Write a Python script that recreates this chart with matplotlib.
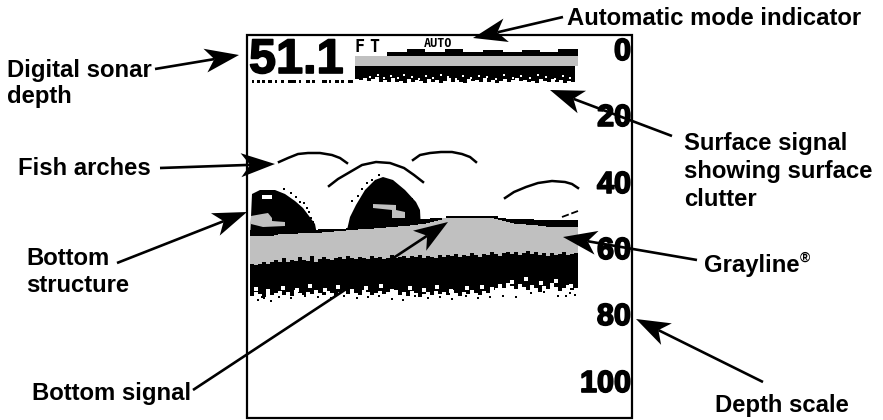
import matplotlib
matplotlib.use('Agg')
import matplotlib.pyplot as plt
import matplotlib.patheffects as pe
from matplotlib.patches import Polygon, Rectangle
import numpy as np

# everything in pixels, y grows downwards
frame = (247, 35, 632, 418)
black = '#000000'
gray = '#c0c0c0'

depth_labels = ['0', '20', '40', '60', '80', '100']
depth_base = [60, 126, 193, 259, 325, 392]
sonar_depth = '51.1'

# notes: text, x, baseline
notes = [
    ('Digital sonar', 7, 77), ('depth', 7, 103), ('Fish arches', 18, 175),
    ('Bottom', 26, 265), ('structure', 26, 292), ('Bottom signal', 32, 400),
    ('Automatic mode indicator', 567, 25), ('Surface signal', 684, 150),
    ('showing surface', 684, 178), ('clutter', 684, 206),
    ('Grayline', 704, 272), ('Depth scale', 715, 412),
]
# arrows: tail x, tail y, tip x, tip y
arrows = [
    (155, 69, 239, 55), (160, 168, 275, 164), (117, 263, 247, 212),
    (193, 390, 448, 222), (563, 17, 473, 38), (672, 136, 550, 90),
    (697, 260, 563, 237), (763, 382, 636, 319),
]

# surface band
band_steps_x = [387, 407, 425, 445, 463, 483, 503, 522, 540, 558, 578]
band_steps_y = [52, 49, 52, 49, 52, 50, 52, 50, 52, 49, 49]
clutter_x = np.arange(355, 579, 4)
clutter_y = [79, 80, 78, 81, 79, 77, 82, 80, 82, 78, 82, 81, 83, 79, 82, 80, 81, 83, 79, 82, 80, 83, 81, 78, 82, 80,
             82, 83, 79, 81, 80, 82, 78, 82, 80, 83, 81, 79, 82, 80, 78, 81, 80, 82, 81, 83, 79, 81, 82, 79, 82, 80,
             83, 81, 82, 82]
clutter_left_x = [252, 257, 262, 268, 275, 281, 288, 293, 299, 306, 312, 322, 329, 335, 341, 348]
clutter_left_w = [2, 3, 3, 4, 2, 3, 5, 3, 2, 4, 3, 5, 2, 4, 3, 5]
white_x = [370, 378, 384, 391, 398, 404, 412, 419, 426, 433, 441, 448, 456, 463, 471, 479, 487, 496, 504, 513, 521,
           530, 538, 546, 555, 563, 570]
white_y = [77, 75, 78, 76, 78, 75, 77, 79, 76, 78, 75, 77, 79, 76, 78, 76, 77, 79, 75, 78, 76, 78, 75, 77, 79, 76, 78]

# fish arches, x and y along each one
arch_x = [
    [279, 288, 298, 308, 320, 332, 340, 347],
    [329, 338, 350, 362, 376, 390, 404, 414, 423],
    [413, 420, 430, 441, 452, 462, 470, 476],
    [505, 514, 526, 538, 552, 565, 572, 578],
]
arch_y = [
    [162, 158, 154, 153, 153, 155, 158, 163],
    [186, 179, 172, 165, 162, 163, 168, 175, 182],
    [160, 155, 153, 152, 152, 154, 157, 162],
    [198, 192, 187, 183, 181, 182, 184, 188],
]
dash_x = [562, 570, 578]
dash_y = [217, 214, 211]

# bottom structure outlines
blob1_x = [250, 252, 260, 275, 285, 295, 303, 309, 315, 318]
blob1_y = [240, 194, 190, 190, 194, 201, 208, 216, 224, 240]
blob2_x = [347, 350, 356, 365, 375, 383, 393, 405, 416, 420, 421]
blob2_y = [230, 217, 205, 190, 180, 177, 180, 190, 202, 210, 230]
blob1_patch_x = [251, 262, 268, 272, 272, 285, 285, 263, 251]
blob1_patch_y = [216, 214, 213, 218, 221, 222, 226, 227, 224]
blob2_patch_x = [373, 396, 396, 405, 405, 392, 392, 373]
blob2_patch_y = [204, 205, 210, 212, 218, 218, 210, 208]
blob1_hole_x = [262, 272, 272, 262]
blob1_hole_y = [195, 195, 199, 199]
blob_edge_x = [296, 300, 304, 307, 309, 311, 313, 352, 358, 362, 367, 372, 379, 394, 398, 402, 408, 412, 284, 291]
blob_edge_y = [197, 202, 203, 208, 212, 218, 222, 201, 196, 189, 183, 180, 175, 187, 190, 193, 196, 199, 189, 193]

# bottom signal columns
bottom_x = np.arange(250, 582, 4)
black_top = [230, 230, 230, 230, 230, 230, 230, 230, 230, 230, 230, 230, 230, 230, 230, 230, 230, 229, 229, 229,
             229, 229, 229, 229, 228, 228, 227, 226, 225, 224, 223, 222, 221, 220, 220, 220, 220, 219, 219, 219,
             219, 219, 219, 219, 219, 218, 218, 218, 218, 216, 216, 216, 216, 216, 216, 216, 216, 216, 216, 216,
             216, 216, 218, 218, 219, 219, 219, 219, 219, 219, 219, 220, 220, 220, 220, 220, 220, 220, 220, 220,
             220, 220, 220]
gray_top = [236, 236, 236, 236, 236, 236, 235, 234, 234, 234, 234, 234, 233, 233, 233, 233, 233, 233, 232, 232,
            232, 231, 231, 231, 230, 230, 230, 229, 229, 229, 229, 228, 228, 228, 227, 227, 227, 226, 226, 226,
            225, 225, 224, 224, 223, 222, 221, 220, 218, 218, 218, 218, 218, 218, 218, 218, 218, 218, 218, 218,
            218, 219, 220, 221, 222, 223, 224, 224, 224, 225, 225, 225, 226, 226, 227, 227, 227, 227, 227, 227,
            227, 227, 227]
gray_bottom = [264, 265, 264, 262, 264, 262, 260, 262, 258, 262, 260, 261, 257, 260, 261, 256, 262, 259, 257, 259,
               260, 258, 257, 259, 256, 258, 259, 257, 258, 259, 256, 258, 257, 259, 258, 255, 258, 257, 256, 258,
               256, 257, 255, 258, 256, 257, 258, 255, 257, 255, 256, 254, 257, 255, 256, 253, 255, 257, 254, 255,
               252, 254, 256, 253, 252, 254, 252, 255, 253, 251, 254, 252, 255, 253, 256, 253, 255, 254, 252, 255,
               254, 253, 253]
black_bottom = [296, 292, 294, 297, 292, 295, 293, 291, 295, 292, 296, 290, 293, 295, 292, 294, 290, 293, 295, 291,
                293, 296, 292, 290, 294, 291, 293, 295, 290, 292, 295, 293, 291, 294, 292, 289, 293, 295, 292, 296,
                291, 293, 297, 294, 292, 295, 291, 294, 292, 295, 290, 293, 296, 292, 294, 290, 293, 295, 291, 293,
                287, 290, 284, 288, 283, 286, 289, 284, 287, 290, 285, 288, 292, 286, 289, 283, 287, 291, 288, 285,
                290, 288, 288]
speck_x = [258, 264, 271, 262, 279, 291, 305, 318, 331, 344, 357, 368, 379, 392, 403, 415, 428, 440, 452, 466, 478,
           490, 503, 516, 531, 544, 558, 570, 575, 566]
speck_y = [300, 298, 301, 297, 297, 298, 296, 297, 298, 296, 298, 297, 296, 299, 300, 296, 298, 297, 299, 296, 298,
           297, 296, 297, 293, 292, 296, 293, 295, 296]
hole_x = [256, 268, 283, 297, 310, 325, 338, 352, 366, 381, 396, 410, 424, 437, 451, 467, 482, 497, 512, 526, 541,
          556, 571]
hole_y = [289, 291, 288, 290, 286, 290, 287, 291, 288, 286, 292, 288, 290, 287, 291, 288, 287, 290, 282, 279, 283,
          281, 286]


def draw_arrow(ax, x0, y0, x1, y1):
    # notched arrow head, same proportions on every arrow
    d = np.array([x1 - x0, y1 - y0], dtype=float)
    d = d / np.hypot(d[0], d[1])
    n = np.array([-d[1], d[0]])
    tip = np.array([x1, y1], dtype=float)
    back = tip - d * 34
    notch = tip - d * 25
    ax.plot([x0, notch[0]], [y0, notch[1]], color=black, lw=1.9, solid_capstyle='butt', zorder=6)
    ax.add_patch(Polygon([tip, back + n * 12, notch, back - n * 12], closed=True, color=black, lw=0, zorder=6))


fig = plt.figure(figsize=(8.83, 4.2), dpi=100)
ax = fig.add_axes([0, 0, 1, 1])
ax.set_xlim(0, 883)
ax.set_ylim(420, 0)
ax.axis('off')

ax.add_patch(Rectangle((frame[0], frame[1]), frame[2] - frame[0], frame[3] - frame[1],
                       fill=False, ec=black, lw=1.6, zorder=5))

# surface band
ax.fill_between(band_steps_x, band_steps_y, 57, step='post', color=black, lw=0)
ax.add_patch(Rectangle((355, 56), 223, 10, color=gray, lw=0))
ax.fill_between(clutter_x, 66, clutter_y, step='post', color=black, lw=0)
ax.plot(white_x, white_y, ls='none', marker='s', ms=1.5, color='white', mew=0)
ax.bar(clutter_left_x, [3] * len(clutter_left_x), width=clutter_left_w, bottom=80, align='edge', color=black)

# bottom
ax.fill_between(bottom_x, black_top, black_bottom, step='post', color=black, lw=0)
ax.fill_between(bottom_x, gray_top, gray_bottom, step='post', color=gray, lw=0, zorder=2)
ax.fill(blob1_x, blob1_y, color=black, lw=0)
ax.fill(blob2_x, blob2_y, color=black, lw=0)
ax.fill(blob1_patch_x, blob1_patch_y, color=gray, lw=0, zorder=2)
ax.fill(blob2_patch_x, blob2_patch_y, color=gray, lw=0, zorder=2)
ax.fill(blob1_hole_x, blob1_hole_y, color='white', lw=0, zorder=2)
ax.plot(blob_edge_x, blob_edge_y, ls='none', marker='s', ms=2, color=black, mew=0)
ax.plot(speck_x, speck_y, ls='none', marker='s', ms=2, color=black, mew=0)
ax.plot(hole_x, hole_y, ls='none', marker='s', ms=2.2, color='white', mew=0, zorder=2)

for xs, ys in zip(arch_x, arch_y):
    ax.plot(xs, ys, color=black, lw=1.8, zorder=3)
ax.plot(dash_x, dash_y, color=black, lw=1.3, dashes=(4, 1.5), zorder=3)

# screen text, stroked a little to get the heavy display look
heavy = [pe.withStroke(linewidth=1.2, foreground=black)]
ax.text(249, 73, sonar_depth, family='Liberation Sans', weight='bold', fontsize=35, va='baseline', color=black,
        path_effects=heavy)
ax.text(355, 52, 'F', family='DejaVu Sans Mono', weight='bold', fontsize=12, va='baseline', color=black)
ax.text(369, 52, 'T', family='DejaVu Sans Mono', weight='bold', fontsize=12, va='baseline', color=black)
ax.text(424, 47, 'AUTO', family='DejaVu Sans Mono', weight='bold', fontsize=8.5, va='baseline', color=black)
for lab, y in zip(depth_labels, depth_base):
    ax.text(631, y, lab, family='Liberation Sans', weight='bold', fontsize=22, ha='right', va='baseline', color=black,
            path_effects=heavy)

# callouts
for t, x, y in notes:
    ax.text(x, y, t, family='Liberation Sans', weight='bold', fontsize=17.2, va='baseline', color=black)
ax.text(800, 262, '®', family='Liberation Sans', weight='bold', fontsize=10, va='baseline', color=black)
for a in arrows:
    draw_arrow(ax, *a)

fig.savefig('out.png', dpi=100)
plt.close()
